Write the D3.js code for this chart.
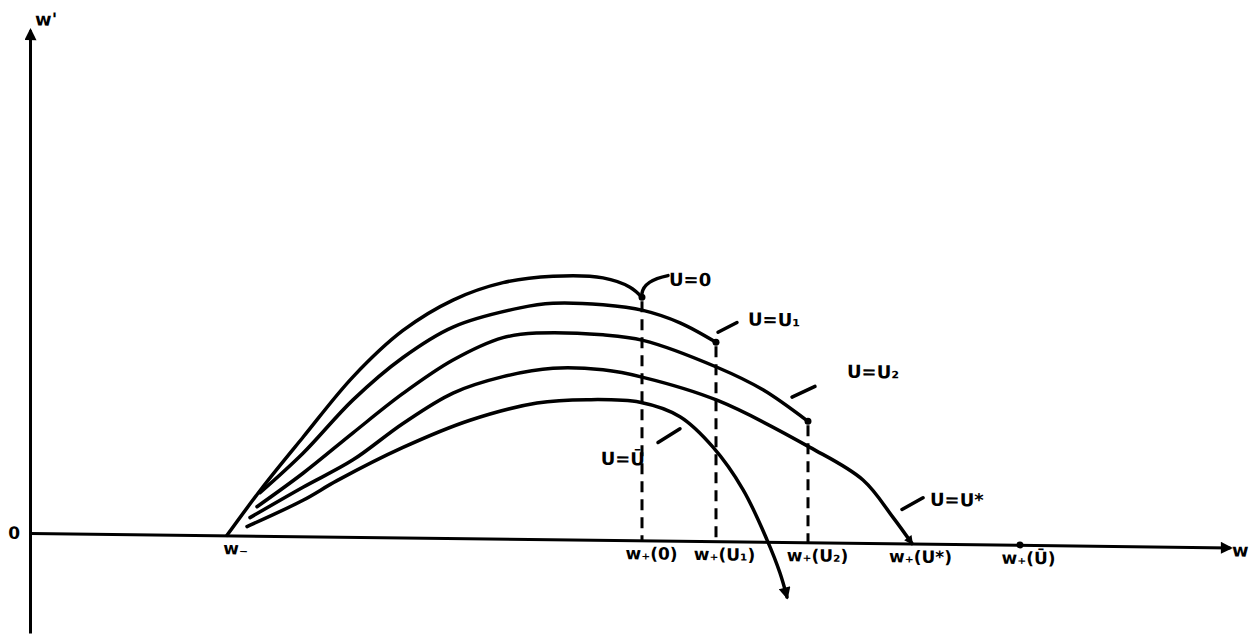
<!DOCTYPE html>
<html>
<head>
<meta charset="utf-8">
<script src="https://cdn.jsdelivr.net/npm/d3@7"></script>
<style>
  body { margin: 0; background: #fff; }
  svg text { font-family: "DejaVu Sans", sans-serif; font-weight: bold; fill: #000; }
</style>
</head>
<body>
<svg id="chart" width="1255" height="636"></svg>
<script>
// phase-plane sketch: w' against w, one trajectory per value of U
const curveNames = ["U=0", "U=U₁", "U=U₂", "U=U*", "U=Ū"]
const curveW = [
  [1.97, 2.33, 2.73, 3.23, 3.73, 4.23, 4.73, 5.23, 5.73, 6.00, 6.12],
  [2.30, 2.73, 3.23, 3.73, 4.23, 4.90, 5.23, 5.73, 6.13, 6.50, 6.86],
  [2.27, 2.73, 3.23, 3.73, 4.23, 4.73, 5.07, 5.73, 6.13, 6.87, 7.33, 7.78],
  [2.20, 2.73, 3.23, 3.73, 4.23, 4.73, 5.23, 5.73, 6.13, 6.87, 7.80, 8.33, 8.63, 8.82],
  [2.17, 2.73, 3.07, 3.73, 4.40, 5.07, 5.57, 6.10, 6.50, 6.83, 7.13, 7.37, 7.50, 7.57]
]
const curveWp = [
  [0.00, 0.49, 0.99, 1.60, 2.07, 2.38, 2.56, 2.63, 2.62, 2.53, 2.43],
  [0.43, 0.83, 1.37, 1.80, 2.11, 2.31, 2.36, 2.35, 2.30, 2.18, 1.99],
  [0.29, 0.63, 1.04, 1.44, 1.78, 2.01, 2.06, 2.05, 2.00, 1.74, 1.52, 1.21],
  [0.18, 0.49, 0.77, 1.14, 1.45, 1.62, 1.71, 1.70, 1.63, 1.41, 0.95, 0.63, 0.26, 0.00],
  [0.09, 0.36, 0.56, 0.90, 1.18, 1.36, 1.40, 1.38, 1.24, 0.94, 0.52, 0.02, -0.31, -0.55]
]
// marks on the w axis
const tickValues = [1.97, 6.13, 6.86, 7.79, 8.82, 9.90]
const tickLabels = ["w₋", "w₊(0)", "w₊(U₁)", "w₊(U₂)", "w₊(U*)", "w₊(Ū)"]
const yTickValues = [0]
const yTickLabels = ["0"]

const svg = d3.select("#chart")
const defs = svg.append("defs")

function arrowMarker(id, w, h) {
  defs.append("marker")
    .attr("id", id)
    .attr("viewBox", "0 0 10 10")
    .attr("refX", 8).attr("refY", 5)
    .attr("markerUnits", "userSpaceOnUse")
    .attr("markerWidth", w).attr("markerHeight", h)
    .attr("orient", "auto")
    .append("path")
    .attr("d", "M0,0L10,5L0,10Z")
    .attr("fill", "#000")
}
arrowMarker("arrow", 15, 12)
arrowMarker("arrow-small", 10, 9)

const x = d3.scaleLinear().domain([0, 12]).range([30, 1230])
const y = d3.scaleLinear().domain([-1, 5.03]).range([632.6, 29.6])

// the sketch's w axis droops a little to the right
const g = svg.append("g").attr("transform", "skewY(0.69)")

/* axes */
const xAxis = g.append("g")
  .attr("transform", "translate(0," + y(0) + ")")
  .call(d3.axisBottom(x)
    .tickValues(tickValues)
    .tickSize(0)
    .tickSizeOuter(0)
    .tickPadding(7)
    .tickFormat((d, i) => tickLabels[i]))
  .attr("font-size", 17)
xAxis.select(".domain")
  .attr("stroke", "#000")
  .attr("stroke-width", 3)
  .attr("marker-end", "url(#arrow)")
xAxis.selectAll(".tick text").attr("dx", 8)

const yAxis = g.append("g")
  .attr("transform", "translate(" + x(0) + ",0)")
  .call(d3.axisLeft(y)
    .tickValues(yTickValues)
    .tickSize(0)
    .tickSizeOuter(0)
    .tickPadding(10)
    .tickFormat((d, i) => yTickLabels[i]))
  .attr("font-size", 17)
yAxis.select(".domain")
  .attr("stroke", "#000")
  .attr("stroke-width", 3)
  .attr("marker-end", "url(#arrow)")

g.append("text")
  .attr("x", x(12) + 2).attr("y", y(0) + 9)
  .attr("font-size", 18)
  .text("w")

g.append("text")
  .attr("x", x(0) + 5).attr("y", 25)
  .attr("font-size", 18)
  .text("w'")

// dot marking w+(Ū)
g.append("circle")
  .attr("cx", x(tickValues[5])).attr("cy", y(0))
  .attr("r", 3.5)

/* trajectories */
const curves = curveW.map((ws, i) => ws.map((w, j) => [w, curveWp[i][j]]))

const line = d3.line()
  .x(d => x(d[0]))
  .y(d => y(d[1]))
  .curve(d3.curveCatmullRom.alpha(0.5))

// dashed drops from the ends of the first three curves
curves.slice(0, 3).forEach(c => {
  const end = c[c.length - 1]
  g.append("line")
    .attr("x1", x(end[0])).attr("y1", y(end[1]) + 4)
    .attr("x2", x(end[0])).attr("y2", y(0))
    .attr("stroke", "#000")
    .attr("stroke-width", 3)
    .attr("stroke-dasharray", "11,7")
})

curves.forEach((c, i) => {
  const path = g.append("path")
    .datum(c)
    .attr("fill", "none")
    .attr("stroke", "#000")
    .attr("stroke-width", 3.5)
    .attr("stroke-linecap", "round")
    .attr("d", line)
  if (i === 3) path.attr("marker-end", "url(#arrow-small)")
  if (i === 4) path.attr("marker-end", "url(#arrow)")
  if (i < 3) {
    const end = c[c.length - 1]
    g.append("circle")
      .attr("cx", x(end[0])).attr("cy", y(end[1]))
      .attr("r", 3.5)
  }
})

/* curve labels with their leader strokes, offsets in pixels from an anchor point */
const labelPlace = [
  { at: 10, lead: "M0,-4Q2,-17 26,-22", tx: 27, ty: -12, anchor: "start" },
  { at: 10, lead: "M2,-10L21,-20", tx: 32, ty: -17, anchor: "start" },
  { at: 11, lead: "M-16,-24L7,-35", tx: 39, ty: -44, anchor: "start" },
  { at: 13, lead: "M-10,-34L11,-46", tx: 18, ty: -38, anchor: "start" },
  { at: 7, lead: "M40,26L18,40", tx: 5, ty: 63, anchor: "end" }
]

curves.forEach((c, i) => {
  const p = labelPlace[i]
  const px = x(c[p.at][0]), py = y(c[p.at][1])
  g.append("path")
    .attr("transform", "translate(" + px + "," + py + ")")
    .attr("d", p.lead)
    .attr("fill", "none")
    .attr("stroke", "#000")
    .attr("stroke-width", 3.5)
    .attr("stroke-linecap", "round")
  g.append("text")
    .attr("x", px + p.tx).attr("y", py + p.ty)
    .attr("text-anchor", p.anchor)
    .attr("font-size", 18)
    .text(curveNames[i])
})
</script>
</body>
</html>
